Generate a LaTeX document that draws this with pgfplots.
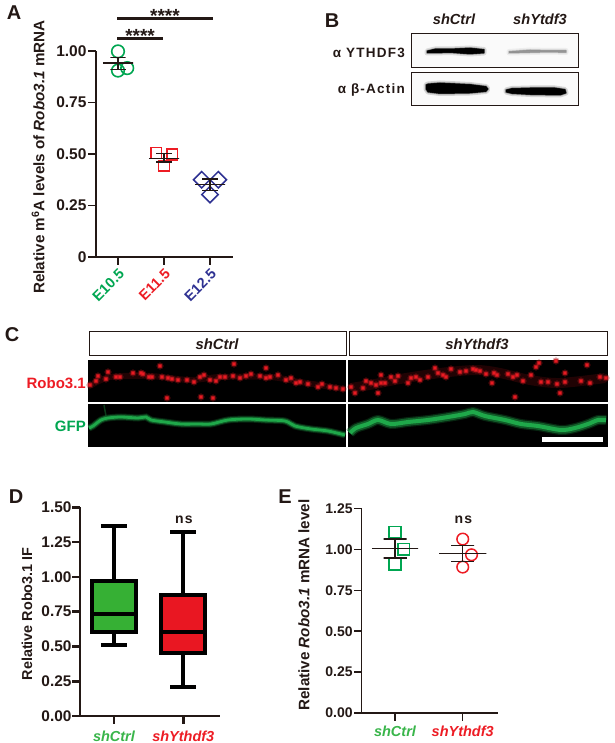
\documentclass[border=0pt]{standalone}
\usepackage{fontspec}
\setmainfont{Liberation Sans}
\newfontfamily\spaced[LetterSpace=9]{Liberation Sans}
\usepackage{pgfplots}
\usepgfplotslibrary{statistics}
\pgfplotsset{compat=1.18}

\definecolor{ink}{HTML}{231815}
\definecolor{egreen}{HTML}{00A651}
\definecolor{ered}{HTML}{ED1C24}
\definecolor{enavy}{HTML}{2E3192}
\definecolor{lgreen}{HTML}{39B54A}
\definecolor{boxgreen}{HTML}{36B034}
\definecolor{boxred}{HTML}{E91722}
\definecolor{gfp}{HTML}{1FA84A}

\newcommand{\fs}[1]{\fontsize{#1}{#1}\selectfont}

\pgfplotsset{
  panel/.style={
    scale only axis, anchor=south west, clip=false, clip mode=individual,
    axis lines=left, axis line style={-, color=ink},
    tick align=outside, tick style={color=ink},
    xtick={0,1,2}, scaled ticks=false,
  },
  % pixel canvas for the blots and the micrographs
  canvas/.style={
    scale only axis, anchor=south west, at={(0pt,0pt)}, clip=false,
    width=614pt, height=743pt, hide axis,
    xmin=0, xmax=614, ymin=0, ymax=743, y dir=reverse,
  },
  band/.style={fill=#1, draw=#1, line join=round},
}

\begin{document}
\begin{tikzpicture}
\useasboundingbox (0pt,0pt) rectangle (614pt,743pt);

\begin{axis}[canvas]
% panel letters
\node[font=\bfseries\fs{20},text=ink] at (axis cs:14,13) {A};
\node[font=\bfseries\fs{20},text=ink] at (axis cs:332,21) {B};
\node[font=\bfseries\fs{20},text=ink] at (axis cs:12,335) {C};
\node[font=\bfseries\fs{20},text=ink] at (axis cs:16,497) {D};
\node[font=\bfseries\fs{20},text=ink] at (axis cs:285,497) {E};

% B: blot background
\addplot[fill=black!2, draw=none] coordinates {(411,34)(578,34)(578,68)(411,68)} -- cycle;
\addplot[fill=black!2, draw=none] coordinates {(411,73)(578,73)(578,106)(411,106)} -- cycle;
% YTHDF3 bands
\pgfplotstableread{
x y
427 51
435 49
450 49
470 48
484 49.5
484 53
470 54
450 52.5
435 53
427 53
}\bandA
\pgfplotstableread{
x y
509 51.5
530 50
550 50.5
566 50.5
566 52.5
550 52
530 52.5
509 53
}\bandB
\pgfplotstableread{
x y
426 85
428 84
440 83
470 84.5
486 86.5
488 89
486 91.5
470 93
440 93.5
428 92
426 89
}\bandC
\pgfplotstableread{
x y
506 90
512 88.5
530 88
555 88
565 89.5
566 93
560 95
530 94.5
512 93.5
506 92
}\bandD
\addplot[band=black, line width=5pt, opacity=.12] table {\bandA} -- cycle;
\addplot[band=black, line width=2pt, opacity=.3] table {\bandA} -- cycle;
\addplot[band=black, line width=0.5pt] table {\bandA} -- cycle;
\addplot[band=black, line width=5pt, opacity=.05] table {\bandB} -- cycle;
\addplot[band=black, line width=2pt, opacity=.12] table {\bandB} -- cycle;
\addplot[band=black!45, line width=0.5pt, opacity=.7] table {\bandB} -- cycle;
\addplot[band=black, line width=5pt, opacity=.15] table {\bandC} -- cycle;
\addplot[band=black, line width=2pt, opacity=.35] table {\bandC} -- cycle;
\addplot[band=black, line width=0.5pt] table {\bandC} -- cycle;
\addplot[band=black, line width=5pt, opacity=.15] table {\bandD} -- cycle;
\addplot[band=black, line width=2pt, opacity=.35] table {\bandD} -- cycle;
\addplot[band=black, line width=0.5pt] table {\bandD} -- cycle;
\addplot[ink, line width=1pt] coordinates {(411,34)(578,34)(578,68)(411,68)} -- cycle;
\addplot[ink, line width=1pt] coordinates {(411,73)(578,73)(578,106)(411,106)} -- cycle;

\node[font=\bfseries\itshape\fs{14.6},text=ink] at (axis cs:454,19) {shCtrl};
\node[font=\bfseries\itshape\fs{14.6},text=ink] at (axis cs:540,19) {shYtdf3};
\node[anchor=east,inner sep=0pt,font=\bfseries\fs{13.5},text=ink] at (axis cs:405,53) {\spaced\bfseries α YTHDF3};
\node[anchor=east,inner sep=0pt,font=\bfseries\fs{13.5},text=ink] at (axis cs:405,90) {\spaced\bfseries α β-Actin};

% C: header boxes
\addplot[ink, line width=1pt] coordinates {(89,332)(346,332)(346,356)(89,356)} -- cycle;
\addplot[ink, line width=1pt] coordinates {(349,332)(607,332)(607,356)(349,356)} -- cycle;
\node[font=\bfseries\itshape\fs{14.8},text=ink] at (axis cs:217,344) {shCtrl};
\node[font=\bfseries\itshape\fs{14.8},text=ink] at (axis cs:477,344) {shYthdf3};
\node[anchor=east,inner sep=0pt,font=\bfseries\fs{15},text=ered] at (axis cs:86,383) {Robo3.1};
\node[anchor=east,inner sep=0pt,font=\bfseries\fs{15},text=egreen] at (axis cs:86,426) {GFP};

% C: micrograph backgrounds
\addplot[fill=black, draw=none] coordinates {(88,360)(346,360)(346,402)(88,402)} -- cycle;
\addplot[fill=black, draw=none] coordinates {(348,360)(608,360)(608,402)(348,402)} -- cycle;
\addplot[fill=black, draw=none] coordinates {(88,404)(346,404)(346,447)(88,447)} -- cycle;
\addplot[fill=black, draw=none] coordinates {(348,404)(608,404)(608,447)(348,447)} -- cycle;

% C: Robo3.1 puncta
\addplot[ered!45!black, line width=6pt, opacity=.3, smooth] coordinates {(90,386)(110,377)(150,376)(190,380)(220,377)(270,377)(300,382)(344,389)};
\addplot[ered!45!black, line width=10pt, opacity=.3, smooth] coordinates {(351,388)(375,384)(400,379)(440,373)(476,370)(500,373)(530,380)(560,383)(605,378)};
\pgfplotstableread{
x y
90 385
96 381
98 376
106 379
108 372
116 377
120 377
133 373
141 373
143 374
149 377
152 377
162 377
168 378
172 379
178 380
187 380
194 382
200 377
204 375
210 380
216 381
160 366
167 398
201 397
213 398
220 377
225 377
233 376
240 378
246 376
251 374
260 376
266 378
270 377
278 375
286 380
291 378
296 383
300 382
308 384
318 387
322 384
330 387
336 388
343 389
234 364
266 368
351 387
355 393
363 388
366 381
371 383
376 385
381 383
385 383
391 377
395 381
398 376
408 383
411 378
416 377
420 380
428 377
438 373
443 375
446 377
435 368
451 369
460 372
466 371
473 369
476 370
381 375
378 393
480 371
486 374
494 373
497 375
508 374
513 377
517 375
523 381
531 375
541 382
548 382
557 384
565 382
581 381
590 383
600 377
606 378
539 363
556 361
587 365
565 373
492 383
515 397
560 393
536 367
}\puncta
\addplot[only marks, mark=*, mark size=3.4pt, color=ered!70!black, opacity=.3, mark options={draw=none}] table {\puncta};
\addplot[only marks, mark=*, mark size=2.2pt, color=ered!85!black, opacity=.7, mark options={draw=none}] table {\puncta};
\addplot[only marks, mark=*, mark size=1.3pt, color=ered, mark options={draw=none}] table {\puncta};

% C: GFP neurites
\pgfplotstableread{
x y
89 428
93 426
101 420
108 418
121 417
138 418
146 417
151 420
165 422
181 424
198 424
211 424
228 420
248 419
265 420
285 421
295 426
311 429
328 431
345 435
}\gfpleft
\pgfplotstableread{
x y
350 433
356 428
368 424
378 420
391 424
408 422
428 420
448 417
465 414
473 412
485 416
505 420
521 424
538 426
561 430
575 428
588 424
598 420
606 420
}\gfpright
\addplot[gfp!50!black, line width=1.5pt, opacity=.7] coordinates {(104,405)(106,416)};
\addplot[gfp!60!black, line width=7pt, smooth, opacity=.35] table {\gfpleft};
\addplot[gfp!80!black, line width=5pt, smooth, opacity=.6] table {\gfpleft};
\addplot[gfp, line width=2.8pt, smooth] table {\gfpleft};
\addplot[gfp!60!black, line width=10pt, smooth, opacity=.35] table {\gfpright};
\addplot[gfp!80!black, line width=7.5pt, smooth, opacity=.6] table {\gfpright};
\addplot[gfp, line width=4pt, smooth] table {\gfpright};
% scale bar
\addplot[fill=white, draw=none] coordinates {(542,437)(603,437)(603,442)(542,442)} -- cycle;
\end{axis}

% A
\begin{axis}[panel, at={(96pt,486pt)}, width=137pt, height=206pt,
  xmin=-0.478, xmax=2.5, ymin=0, ymax=1,
  axis line style={line width=1.7pt},
  tick style={line width=1.7pt}, major tick length=8pt,
  ytick={0,0.25,0.5,0.75,1},
  yticklabels={0,0.25,0.50,0.75,1.00},
  y tick label style={font=\bfseries\fs{15.5},text=ink,xshift=2pt},
  xticklabels={\textcolor{egreen}{E10.5},\textcolor{ered}{E11.5},\textcolor{enavy}{E12.5}},
  x tick label style={font=\bfseries\fs{14.5},rotate=45,anchor=north east,inner sep=2pt},
  ylabel={Relative m\textsuperscript{6}A levels of \textit{Robo3.1} mRNA},
  y label style={font=\bfseries\fs{15.2},text=ink,at={(axis description cs:-0.423,0.485)},anchor=center},
]
\addplot[only marks, mark=o, mark size=6.3pt, color=egreen, mark options={draw=egreen,fill=none,line width=1.6pt}]
  coordinates {(0,0.998)(0,0.905)(0.2,0.917)};
\addplot[ink, line width=1.3pt] coordinates {(-0.33,0.942)(0.33,0.942)(0,0.942)(0,0.969)(-0.167,0.969)(0.167,0.969)(0,0.969)(0,0.909)(-0.167,0.909)(0.167,0.909)};
\addplot[only marks, mark=square, mark size=5.4pt, color=ered, mark options={draw=ered,fill=none,line width=1.6pt}]
  coordinates {(0.83,0.505)(1.18,0.497)(1,0.443)};
\addplot[ink, line width=1.5pt] coordinates {(0.67,0.479)(1.33,0.479)(1,0.479)(1,0.502)(0.83,0.502)(1.17,0.502)(1,0.502)(1,0.46)(0.83,0.46)(1.17,0.46)};
\addplot[only marks, mark=square, mark size=5.8pt, color=enavy, mark options={draw=enavy,fill=none,line width=1.5pt, rotate=45}]
  coordinates {(1.82,0.375)(2.18,0.375)(2,0.303)};
\addplot[ink, line width=1.3pt] coordinates {(1.67,0.351)(2.33,0.351)(2,0.351)(2,0.379)(1.83,0.379)(2.17,0.379)(2,0.379)(2,0.324)(1.83,0.324)(2.17,0.324)};
% significance bars
\addplot[ink, line width=3.2pt] coordinates {(-0.015,1.06)(0.97,1.06)};
\addplot[ink, line width=2.4pt] coordinates {(-0.015,1.157)(2.07,1.157)};
\node[font=\bfseries\fs{19},text=ink] at (axis cs:0.48,1.075) {****};
\node[font=\bfseries\fs{19},text=ink] at (axis cs:1.02,1.168) {****};
\end{axis}

% D
\begin{axis}[panel, at={(80pt,27pt)}, width=140pt, height=208.7pt,
  xmin=-0.49, xmax=1.53, ymin=0, ymax=1.5,
  axis line style={line width=2.6pt},
  tick style={line width=2.6pt}, major tick length=7.5pt,
  xtick={0,1},
  ytick={0,0.25,0.5,0.75,1,1.25,1.5},
  yticklabels={0.00,0.25,0.50,0.75,1.00,1.25,1.50},
  y tick label style={font=\bfseries\fs{15.4},text=ink,xshift=2.5pt},
  xticklabels={\textcolor{lgreen}{shCtrl},\textcolor{ered}{shYthdf3}},
  x tick label style={font=\bfseries\itshape\fs{14.5},inner sep=0pt,yshift=-7pt},
  ylabel={Relative Robo3.1 IF},
  y label style={font=\bfseries\fs{14.4},text=ink,at={(axis description cs:-0.379,0.489)},anchor=center},
]
\addplot[boxplot/draw direction=y, boxplot prepared={draw position=0, lower whisker=0.513, lower quartile=0.601,
    median=0.733, upper quartile=0.973, upper whisker=1.368, whisker extend=0.375, box extend=0.64},
  fill=boxgreen, draw=black, line width=3.9pt, solid] coordinates {};
\addplot[boxplot/draw direction=y, boxplot prepared={draw position=1, lower whisker=0.211, lower quartile=0.455,
    median=0.601, upper quartile=0.872, upper whisker=1.325, whisker extend=0.375, box extend=0.64},
  fill=boxred, draw=black, line width=3.9pt, solid] coordinates {};
\node[font=\bfseries\fs{14},text=ink] at (axis cs:1.01,1.41) {\spaced\bfseries ns};
\end{axis}

% E
\begin{axis}[panel, at={(361.7pt,30pt)}, width=136.3pt, height=204.5pt,
  xmin=-0.492, xmax=1.521, ymin=0, ymax=1.25,
  axis line style={line width=1.5pt},
  tick style={line width=1.5pt}, major tick length=7.5pt,
  xtick={0,1},
  ytick={0,0.25,0.5,0.75,1,1.25},
  yticklabels={0.00,0.25,0.50,0.75,1.00,1.25},
  y tick label style={font=\bfseries\fs{14},text=ink,xshift=2pt},
  xticklabels={\textcolor{lgreen}{shCtrl},\textcolor{ered}{shYthdf3}},
  x tick label style={font=\bfseries\itshape\fs{14.5},inner sep=1pt,yshift=-4pt},
  ylabel={Relative \textit{Robo3.1} mRNA level},
  y label style={font=\bfseries\fs{15.2},text=ink,at={(axis description cs:-0.423,0.528)},anchor=center},
]
\addplot[only marks, mark=square, mark size=5.8pt, color=egreen, mark options={draw=egreen,fill=none,line width=1.5pt}]
  coordinates {(0,1.104)(0,0.91)(0.13,1.002)};
\addplot[ink, line width=1.4pt] coordinates {(-0.34,1.006)(0.34,1.006)(0,1.006)(0,1.063)(-0.17,1.063)(0.17,1.063)(0,1.063)(0,0.947)(-0.17,0.947)(0.17,0.947)};
\addplot[only marks, mark=o, mark size=5.8pt, color=ered, mark options={draw=ered,fill=none,line width=1.5pt}]
  coordinates {(1,1.063)(1,0.892)(1.13,0.967)};
\addplot[ink, line width=1.4pt] coordinates {(0.65,0.976)(1.35,0.976)(1,0.976)(1,1.022)(0.83,1.022)(1.17,1.022)(1,1.022)(1,0.925)(0.83,0.925)(1.17,0.925)};
\node[font=\bfseries\fs{14},text=ink] at (axis cs:1.01,1.178) {\spaced\bfseries ns};
\end{axis}
\end{tikzpicture}
\end{document}
